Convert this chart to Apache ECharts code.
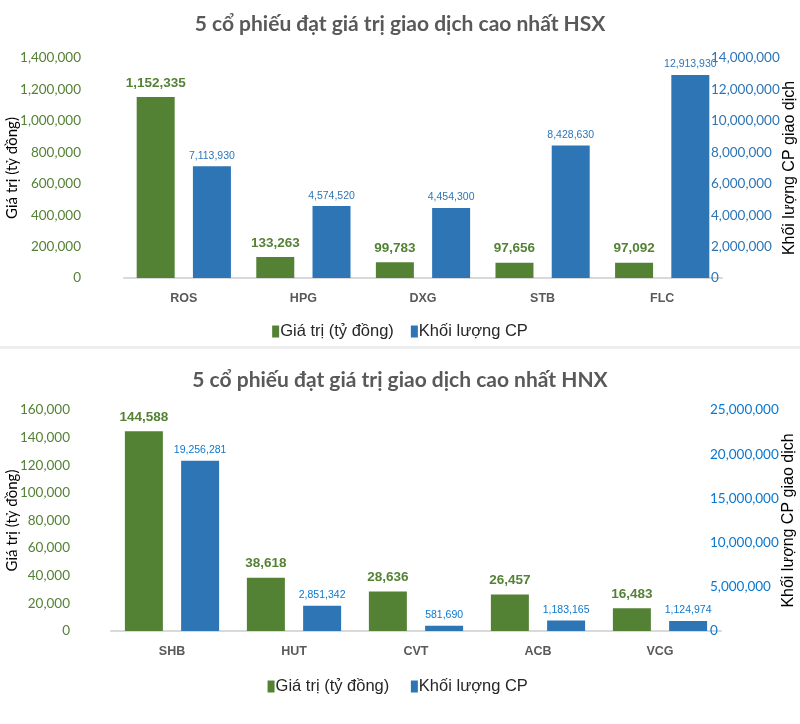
<!DOCTYPE html>
<html><head><meta charset="utf-8">
<script src="https://cdn.jsdelivr.net/npm/echarts@6/dist/echarts.min.js"></script>
<style>html,body{margin:0;padding:0;background:#fff}#c{width:800px;height:724px}</style>
</head><body><div id="c"></div>
<script>
const hsxTitle = '5 cổ phiếu đạt giá trị giao dịch cao nhất HSX';
const hnxTitle = '5 cổ phiếu đạt giá trị giao dịch cao nhất HNX';
const hsxCategories = ['ROS', 'HPG', 'DXG', 'STB', 'FLC'];
const hsxValue = [1152335, 133263, 99783, 97656, 97092];
const hsxVolume = [7113930, 4574520, 4454300, 8428630, 12913930];
const hnxCategories = ['SHB', 'HUT', 'CVT', 'ACB', 'VCG'];
const hnxValue = [144588, 38618, 28636, 26457, 16483];
const hnxVolume = [19256281, 2851342, 581690, 1183165, 1124974];
const seriesNames = ['Giá trị (tỷ đồng)', 'Khối lượng CP'];
const leftAxisName = 'Giá trị (tỷ đồng)';
const rightAxisName = 'Khối lượng CP giao dịch';

const GREEN = '#548235', BLUE = '#2E75B6', BLUE2 = '#0A78D0';
const fmt = v => Math.round(v).toString().replace(/\B(?=(\d{3})+(?!\d))/g, ',');
const CAL = 'Lato';
const ARIAL = 'Liberation Sans';

const chart = echarts.init(document.getElementById('c'));
function yLeft(gi, max, interval, gap, margin) {
  return {gridIndex: gi, type: 'value', min: 0, max: max, interval: interval, position: 'left',
    name: leftAxisName, nameLocation: 'middle', nameGap: gap, nameRotate: 90, nameMoveOverlap: false,
    nameTextStyle: {color: '#000', fontSize: 15, fontFamily: CAL},
    axisLine: {show: false}, axisTick: {show: false}, splitLine: {show: false},
    axisLabel: {color: GREEN, fontSize: 13.5, fontFamily: CAL, margin: margin, formatter: fmt}};
}
function yRight(gi, max, interval, col) {
  return {gridIndex: gi, type: 'value', min: 0, max: max, interval: interval, position: 'right', offset: -13,
    name: rightAxisName, nameLocation: 'middle', nameGap: 73, nameRotate: 90, nameMoveOverlap: false,
    nameTextStyle: {color: '#000', fontSize: 16, fontFamily: ARIAL},
    axisLine: {show: false}, axisTick: {show: false}, splitLine: {show: false},
    axisLabel: {color: col, fontSize: 13.5, fontFamily: CAL, margin: 2, formatter: fmt}};
}
function xAx(gi, cats) {
  return {gridIndex: gi, type: 'category', data: cats,
    axisLine: {lineStyle: {color: '#D9D9D9', width: 2}}, axisTick: {show: false},
    axisLabel: {color: '#595959', fontWeight: 'bold', fontSize: 12.5, fontFamily: ARIAL, margin: 14}};
}
function bar(name, xi, yi, data, col, labCol, labSize, bold, dist) {
  return {name: name, type: 'bar', xAxisIndex: xi, yAxisIndex: yi, data: data, barWidth: 38, barGap: '48%',
    itemStyle: {color: col}, emphasis: {disabled: true},
    label: {show: true, position: 'top', distance: dist, color: labCol, fontSize: labSize,
      fontWeight: bold ? 'bold' : 'normal', fontFamily: ARIAL, formatter: p => fmt(p.value)}};
}
const legendStyle = {itemWidth: 7, itemHeight: 12, icon: 'rect', itemGap: 17,
  textStyle: {color: '#262626', fontSize: 16.5, fontFamily: ARIAL, padding: [0, 0, 0, -4]}};

chart.setOption({
  backgroundColor: '#fff',
  animation: false,
  title: [
    {text: hsxTitle, left: 'center', top: 9, textStyle: {color: '#595959', fontSize: 21, fontWeight: 'bold', fontFamily: CAL}},
    {text: hnxTitle, left: 'center', top: 365, textStyle: {color: '#595959', fontSize: 21, fontWeight: 'bold', fontFamily: CAL}}
  ],
  legend: [
    Object.assign({data: [{name: seriesNames[0], itemStyle: {color: GREEN}}, {name: seriesNames[1], itemStyle: {color: BLUE}}], top: 318, left: 'center'}, legendStyle),
    Object.assign({data: [{name: seriesNames[0] + ' ', itemStyle: {color: GREEN}}, {name: seriesNames[1] + ' ', itemStyle: {color: BLUE}}], top: 673, left: 'center'}, legendStyle)
  ],
  grid: [
    {left: 124, right: 78, top: 58, height: 220, outerBoundsMode: 'none', containLabel: false},
    {left: 111, right: 79, top: 410, height: 221, outerBoundsMode: 'none', containLabel: false}
  ],
  xAxis: [xAx(0, hsxCategories), xAx(1, hnxCategories)],
  yAxis: [yLeft(0, 1400000, 200000, 104, 43), yRight(0, 14000000, 2000000, BLUE),
          yLeft(1, 160000, 20000, 91, 41), yRight(1, 25000000, 5000000, BLUE2)],
  series: [
    bar(seriesNames[0], 0, 0, hsxValue, GREEN, GREEN, 13.5, true, 7),
    bar(seriesNames[1], 0, 1, hsxVolume, BLUE, BLUE, 10.5, false, 5),
    bar(seriesNames[0] + ' ', 1, 2, hnxValue, GREEN, GREEN, 13.5, true, 7),
    bar(seriesNames[1] + ' ', 1, 3, hnxVolume, BLUE, BLUE2, 10.5, false, 5)
  ],
  graphic: [{type: 'rect', shape: {x: 0, y: 346, width: 800, height: 3}, style: {fill: '#EEEEEE'}}]
});
</script></body></html>
